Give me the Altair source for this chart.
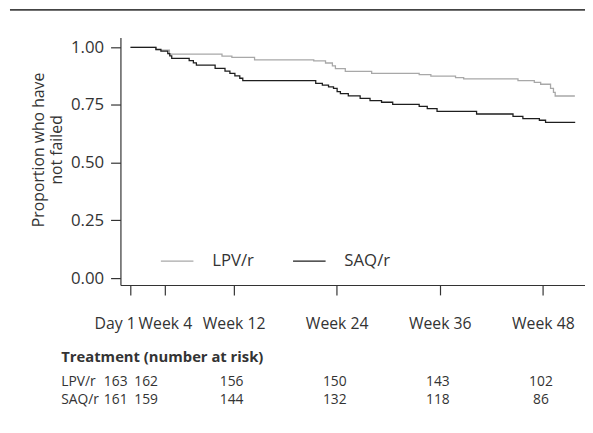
import altair as alt
import pandas as pd

FONT = "Open Sans"
INK = "#333333"

treatments = ["LPV/r", "SAQ/r"]
line_colors = ["#a8a8a8", "#1e1e1e"]

weeks_lpv = [0, 2.96, 4.53, 10.65, 11.8, 14.44, 21.33, 22.7, 23.5, 23.85, 25.0, 28.07,
             33.6, 34.96, 37.83, 38.78, 45.1, 47.0, 47.74, 48.89, 49.23, 49.43, 51.72]
surv_lpv = [1.0, 0.988, 0.970, 0.962, 0.956, 0.946, 0.941, 0.932, 0.920, 0.908, 0.896, 0.887,
            0.882, 0.875, 0.869, 0.863, 0.856, 0.848, 0.840, 0.822, 0.805, 0.789, 0.789]

weeks_saq = [0, 2.96, 3.54, 4.34, 4.57, 4.8, 6.83, 7.32, 7.67, 9.85, 11.0, 11.57, 12.15, 12.72,
             13.07, 21.56, 22.33, 23.05, 23.63, 24.05, 24.43, 25.35, 26.73, 27.88, 29.22, 30.52,
             33.6, 34.54, 35.68, 40.28, 44.52, 45.67, 47.59, 48.31, 51.76]
surv_saq = [1.0, 0.991, 0.983, 0.973, 0.963, 0.952, 0.942, 0.933, 0.923, 0.909, 0.897, 0.887,
            0.876, 0.866, 0.856, 0.844, 0.836, 0.829, 0.822, 0.808, 0.799, 0.790, 0.779, 0.769,
            0.762, 0.753, 0.744, 0.734, 0.722, 0.711, 0.701, 0.691, 0.684, 0.675, 0.675]

tick_weeks = [0, 4, 12, 24, 36, 48]
tick_labels = ["Day 1", "Week 4", "Week 12", "Week 24", "Week 36", "Week 48"]
y_ticks = [0, 0.25, 0.5, 0.75, 1.0]
y_title_lines = ["Proportion who have", "not failed"]

header_text = "Treatment (number at risk)"
at_risk_lpv = [163, 162, 156, 150, 143, 102]
at_risk_saq = [161, 159, 144, 132, 118, 86]

# ---- tables ----
curves = pd.concat([
    pd.DataFrame({"treatment": "LPV/r", "week": weeks_lpv, "surv": surv_lpv}),
    pd.DataFrame({"treatment": "SAQ/r", "week": weeks_saq, "surv": surv_saq}),
])

label_expr = "''"
for w, lab in reversed(list(zip(tick_weeks, tick_labels))):
    label_expr = f"datum.value == {w} ? '{lab}' : ({label_expr})"

x_scale = alt.Scale(domain=[-1.17, 52.9], nice=False, zero=False)
y_scale = alt.Scale(domain=[-0.03, 1.0427], nice=False, zero=False)

lines = alt.Chart(curves).mark_line(interpolate="step-after", strokeWidth=1.3).encode(
    x=alt.X("week:Q", scale=x_scale, axis=alt.Axis(
        values=tick_weeks, labelExpr=label_expr, title=None, tickSize=10,
        labelPadding=21, labelFontSize=16, labelOverlap=False, labelFlush=False,
        labelOffset={"condition": {"test": "datum.value == 0", "value": -16}, "value": 0},
        domainColor=INK, tickColor=INK, labelColor=INK, domainWidth=1.2, tickWidth=1.2)),
    y=alt.Y("surv:Q", scale=y_scale, axis=alt.Axis(
        values=y_ticks, format=".2f", title=None,
        tickSize=10, labelPadding=7, labelFontSize=17,
        domainColor=INK, tickColor=INK, labelColor=INK,
        domainWidth=1.2, tickWidth=1.2)),
    color=alt.Color("treatment:N", scale=alt.Scale(domain=treatments, range=line_colors),
                    legend=alt.Legend(orient="none", legendX=40, legendY=209,
                                      direction="horizontal", title=None,
                                      symbolType="stroke", symbolSize=1089,
                                      symbolStrokeWidth=1.2, labelFontSize=17,
                                      labelFont=FONT, labelColor=INK, labelOffset=18,
                                      columnPadding=36, padding=0)),
    order="week:Q",
)

top_rule = alt.Chart(pd.DataFrame({"k": [0]})).mark_rule(color="#444444", strokeWidth=1.6).encode(
    x=alt.value(-112), x2=alt.value(471), y=alt.value(-28))

ytitle_layers = []
for i, line in enumerate(y_title_lines):
    ytitle_layers.append(alt.Chart(pd.DataFrame({"t": [line]})).mark_text(
        align="center", baseline="middle", angle=270, fontSize=16, font=FONT, color=INK
    ).encode(x=alt.value(-82 + 18 * i), y=alt.value(114), text="t:N"))

header = alt.Chart(pd.DataFrame({"t": [header_text]})).mark_text(
    align="left", baseline="middle", fontSize=15, fontWeight="bold", font=FONT, color=INK
).encode(x=alt.value(-60), y=alt.value(324), text="t:N")

layers = [lines, top_rule, header] + ytitle_layers
row_y = {"LPV/r": 349, "SAQ/r": 368}
for name, counts in zip(treatments, [at_risk_lpv, at_risk_saq]):
    rdf = pd.DataFrame({"week": tick_weeks, "n": counts, "idx": range(len(counts))})
    layers.append(alt.Chart(pd.DataFrame({"t": [name]})).mark_text(
        align="left", baseline="middle", fontSize=14, font=FONT, color=INK
    ).encode(x=alt.value(-60), y=alt.value(row_y[name]), text="t:N"))
    layers.append(alt.Chart(rdf).transform_filter("datum.idx == 0").mark_text(
        align="center", baseline="middle", fontSize=14, font=FONT, color=INK, dx=-15
    ).encode(x="week:Q", y=alt.value(row_y[name]), text="n:Q"))
    layers.append(alt.Chart(rdf).transform_filter("datum.idx == 1").mark_text(
        align="center", baseline="middle", fontSize=14, font=FONT, color=INK, dx=-19
    ).encode(x="week:Q", y=alt.value(row_y[name]), text="n:Q"))
    layers.append(alt.Chart(rdf).transform_filter("datum.idx >= 2").mark_text(
        align="center", baseline="middle", fontSize=14, font=FONT, color=INK, dx=-2
    ).encode(x="week:Q", y=alt.value(row_y[name]), text="n:Q"))

chart = alt.layer(*layers).properties(
    width=471, height=251, autosize="none",
    padding={"left": 114, "top": 27, "right": 0, "bottom": 135},
).configure_view(stroke=None).configure_axis(
    labelFont=FONT, titleFont=FONT, grid=False
)

chart.save("out.html", embed_options={"renderer": "svg", "actions": False})
